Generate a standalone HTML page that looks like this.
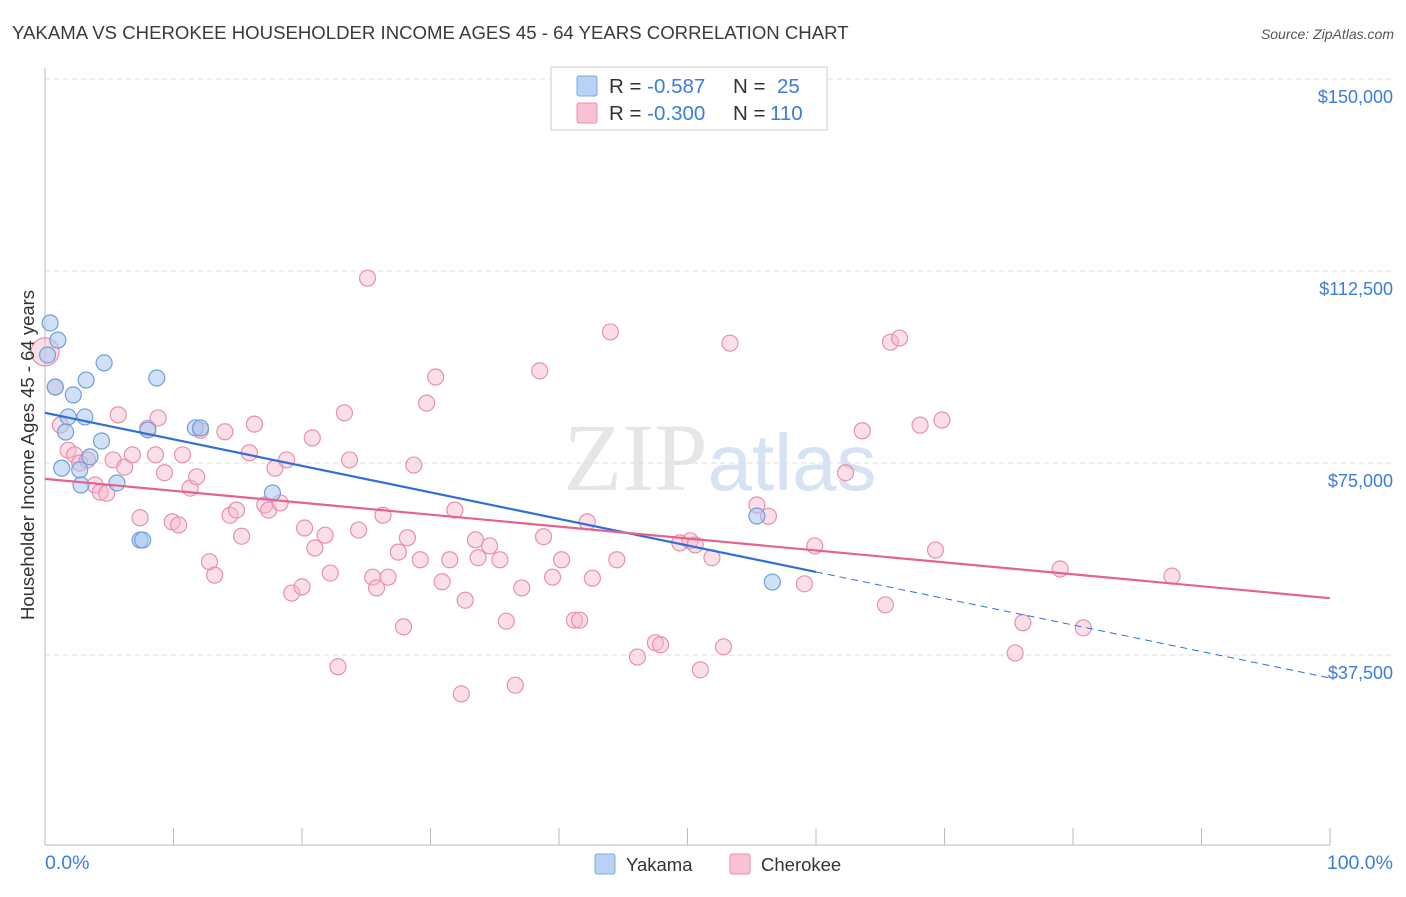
<!DOCTYPE html>
<html><head><meta charset="utf-8"><style>
body{margin:0;background:#fff;font-family:"Liberation Sans",sans-serif}
</style></head><body>
<svg id="c" width="1406" height="892" xmlns="http://www.w3.org/2000/svg">
<text x="12" y="39" font-size="18.6" fill="#3a3a3a">YAKAMA VS CHEROKEE HOUSEHOLDER INCOME AGES 45 - 64 YEARS CORRELATION CHART</text>
<text x="1394" y="39" font-size="14" fill="#555" font-style="italic" text-anchor="end">Source: ZipAtlas.com</text>
<text x="720" y="490" font-size="96" fill="#e6e6e6" text-anchor="middle" font-family="Liberation Serif,serif">ZIP<tspan fill="#d5e3f5" font-family="Liberation Sans,sans-serif" font-size="80">atlas</tspan></text>
<g id="grid"></g><g id="axes"></g><g id="pts"></g><g id="lines"></g>
<text transform="translate(34,455) rotate(-90)" font-size="18.5" fill="#333" text-anchor="middle">Householder Income Ages 45 - 64 years</text>
<text x="45" y="869" font-size="19.5" fill="#3b7dd8">0.0%</text>
<text x="1393" y="869" font-size="19.5" fill="#3b7dd8" text-anchor="end">100.0%</text>
<g>
<rect x="551" y="67" width="276" height="63" fill="#fff" stroke="#ccc"/>
<rect x="577" y="76" width="20" height="20" fill="#b7d2f4" stroke="#7fa9e0" rx="2"/>
<rect x="577" y="103" width="20" height="20" fill="#f8c2d3" stroke="#e890ac" rx="2"/>
<text x="609" y="93" font-size="20.5" fill="#333">R = <tspan fill="#3b7dd8">-0.587</tspan><tspan x="733">N = </tspan><tspan fill="#3b7dd8" x="777">25</tspan></text>
<text x="609" y="120" font-size="20.5" fill="#333">R = <tspan fill="#3b7dd8">-0.300</tspan><tspan x="733">N = </tspan><tspan fill="#3b7dd8" x="770">110</tspan></text>
</g>
<g>
<rect x="595" y="854" width="20" height="20" fill="#b7d2f4" stroke="#7fa9e0" rx="2"/>
<text x="626" y="871" font-size="18.5" fill="#333">Yakama</text>
<rect x="730" y="854" width="20" height="20" fill="#f8c2d3" stroke="#e890ac" rx="2"/>
<text x="761" y="871" font-size="18.5" fill="#333">Cherokee</text>
</g>
</svg>
<script>
const yTicks=[150000,112500,75000,37500];
const yTickLabels=["$150,000","$112,500","$75,000","$37,500"];
const xTicks=[0,10,20,30,40,50,60,70,80,90,100];
const yakX=[0.2,0.4,1.0,0.8,1.8,2.2,3.1,3.2,4.6,8.7,1.6,4.4,1.3,3.5,2.7,2.8,5.6,7.4,7.6,8.0,11.7,12.1,17.7,55.4,56.6];
const yakY=[96.1,102.35,99.0,89.85,84.0,88.3,84.0,91.2,94.55,91.6,81.05,79.3,74.0,76.2,73.65,70.7,71.1,59.95,59.95,81.45,81.85,81.85,69.15,64.65,51.75];
const cheX=[0.0,0.8,1.2,1.8,2.3,2.7,3.3,3.9,4.3,4.8,5.3,5.7,6.2,6.8,7.4,8.0,8.6,8.8,9.3,9.9,10.4,10.7,11.3,11.8,12.1,12.8,13.2,14.0,14.4,14.9,15.3,15.9,16.3,17.1,17.4,17.9,18.3,18.8,19.2,20.0,20.2,20.8,21.0,21.8,22.2,22.8,23.3,23.7,24.4,25.1,25.5,25.8,26.3,26.7,27.5,27.9,28.2,28.7,29.2,29.7,30.4,30.9,31.5,31.9,32.4,32.7,33.5,33.7,34.6,35.4,35.9,36.6,37.1,38.5,38.8,39.5,40.2,41.2,41.6,42.2,42.6,44.0,44.5,46.1,47.5,47.9,49.4,50.2,50.6,51.0,51.9,52.8,53.3,55.4,56.3,59.9,59.1,62.3,63.6,65.4,65.8,66.5,68.1,69.3,69.8,75.5,76.1,79.0,80.8,87.7];
const cheY=[96.7,89.8,82.4,77.5,76.6,75.0,75.6,70.7,69.3,69.1,75.6,84.4,74.2,76.6,64.3,81.8,76.6,83.8,73.1,63.5,62.9,76.6,70.1,72.3,81.4,55.7,53.1,81.1,64.8,65.8,60.7,77.0,82.6,66.8,65.8,74.0,67.2,75.6,49.6,50.8,62.3,79.9,58.4,60.9,53.5,35.2,84.8,75.6,61.9,111.1,52.7,50.6,64.8,52.7,57.6,43.0,60.4,74.6,56.1,86.7,91.8,51.8,56.1,65.8,29.9,48.2,60.0,56.5,58.8,56.1,44.1,31.6,50.6,93.0,60.6,52.7,56.1,44.3,44.3,63.5,52.5,100.6,56.1,37.1,39.9,39.5,59.4,59.8,59.0,34.6,56.5,39.1,98.4,66.8,64.6,58.8,51.4,73.1,81.3,47.3,98.6,99.4,82.4,58.0,83.4,37.9,43.8,54.3,42.8,52.9];
const yakTrend=[84.8,33.0];
const cheTrend=[71.9,48.6];
const X=p=>45+p*12.85;
const Y=v=>79+(150000-v)/37500*192;
const NS="http://www.w3.org/2000/svg";
function mk(tag,attrs,parent){const e=document.createElementNS(NS,tag);for(const k in attrs)e.setAttribute(k,attrs[k]);document.getElementById(parent).appendChild(e);return e;}
yTicks.forEach((t,i)=>{
 const g=mk('line',{x1:45,x2:1393,y1:Y(t),y2:Y(t),stroke:'#ddd','stroke-dasharray':'5,4'},'grid');
 
 
 const tx=mk('text',{x:1393,y:Y(t)+24,'font-size':18,fill:'#3b7dd8','text-anchor':'end'},'grid');
 tx.textContent=yTickLabels[i];
 
 
});
const ax=mk('line',{x1:45,x2:1330,y1:845,y2:845,stroke:'#bbb'},'axes');


const ay=mk('line',{x1:45,x2:45,y1:68,y2:845,stroke:'#bbb'},'axes');


xTicks.forEach(t=>{
 const l=mk('line',{x1:X(t),x2:X(t),y1:828,y2:845,stroke:'#bbb'},'axes');
 
 
});
cheX.forEach((x,i)=>{
 const c=mk('circle',{cx:X(x),cy:Y(cheY[i]*1000),r:x===0?14:8,fill:'#f6b8cb','fill-opacity':0.45,stroke:'#e890ac','stroke-width':1.2},'pts');
 
 
});
yakX.forEach((x,i)=>{
 const c=mk('circle',{cx:X(x),cy:Y(yakY[i]*1000),r:8,fill:'#aac8ee','fill-opacity':0.55,stroke:'#6f9fdc','stroke-width':1.2},'pts');
 
 
});
const yt=p=>(yakTrend[0]+(yakTrend[1]-yakTrend[0])*p/100)*1000;
const ct=p=>(cheTrend[0]+(cheTrend[1]-cheTrend[0])*p/100)*1000;
const l1=mk('line',{x1:X(0),y1:Y(yt(0)),x2:X(60),y2:Y(yt(60)),stroke:'#2f6fd6','stroke-width':2.2},'lines');


const l2=mk('line',{x1:X(60),y1:Y(yt(60)),x2:X(100),y2:Y(yt(100)),stroke:'#2f6fd6','stroke-width':1,'stroke-dasharray':'7,5'},'lines');


const l3=mk('line',{x1:X(0),y1:Y(ct(0)),x2:X(100),y2:Y(ct(100)),stroke:'#e5628f','stroke-width':2.2},'lines');


</script>
</body></html>
